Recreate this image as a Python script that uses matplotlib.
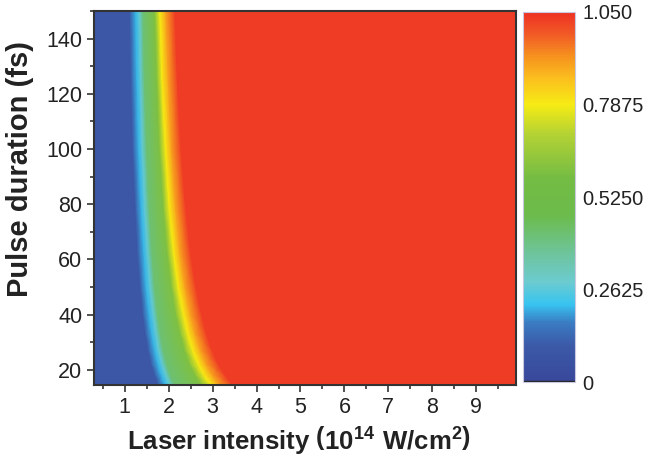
import numpy as np
import matplotlib
matplotlib.use("Agg")
import matplotlib.pyplot as plt
from matplotlib.colors import LinearSegmentedColormap, Normalize
from matplotlib.ticker import MultipleLocator
import matplotlib.cm as cm

plt.rcParams['font.family'] = ['Liberation Sans', 'DejaVu Sans']
plt.rcParams['mathtext.fontset'] = 'custom'
plt.rcParams['mathtext.rm'] = 'Liberation Sans:bold'
plt.rcParams['mathtext.bf'] = 'Liberation Sans:bold'

# pulse duration rows (fs)
tau = [15, 18, 22, 27, 33, 40, 50, 62, 78, 100, 125, 150]

# value reached at each column of the mesh
levels = [0.09, 0.09, 0.21, 0.27, 0.42, 0.60, 0.79, 0.90, 1.03, 1.03]

# intensity (1e14 W/cm2) where each level is reached, one row per pulse duration
crossings = [
    [0.3, 1.75, 1.91, 2.00, 2.12, 2.71, 2.94, 3.12, 3.43, 9.9],
    [0.3, 1.68, 1.84, 1.93, 2.04, 2.60, 2.81, 2.99, 3.29, 9.9],
    [0.3, 1.60, 1.76, 1.85, 1.96, 2.47, 2.68, 2.85, 3.13, 9.9],
    [0.3, 1.53, 1.69, 1.77, 1.88, 2.36, 2.55, 2.72, 2.99, 9.9],
    [0.3, 1.47, 1.62, 1.71, 1.81, 2.26, 2.44, 2.60, 2.86, 9.9],
    [0.3, 1.41, 1.56, 1.65, 1.75, 2.16, 2.34, 2.49, 2.75, 9.9],
    [0.3, 1.35, 1.49, 1.58, 1.68, 2.06, 2.22, 2.37, 2.62, 9.9],
    [0.3, 1.29, 1.44, 1.52, 1.62, 1.97, 2.12, 2.26, 2.50, 9.9],
    [0.3, 1.24, 1.38, 1.46, 1.56, 1.88, 2.02, 2.16, 2.39, 9.9],
    [0.3, 1.18, 1.32, 1.40, 1.50, 1.79, 1.93, 2.06, 2.28, 9.9],
    [0.3, 1.14, 1.28, 1.36, 1.45, 1.73, 1.85, 1.99, 2.20, 9.9],
    [0.3, 1.11, 1.25, 1.33, 1.42, 1.68, 1.80, 1.93, 2.14, 9.9],
]

cbar_ticks = [0, 0.2625, 0.525, 0.7875, 1.05]
cbar_labels = ['0', '0.2625', '0.5250', '0.7875', '1.050']

stops = [
    (0.00, '#39479a'), (0.10, '#3b5aa8'), (0.16, '#3a7cc2'),
    (0.21, '#38c4f0'), (0.27, '#6ccbd0'), (0.35, '#6ec49a'),
    (0.45, '#6cbb4c'), (0.55, '#74bc44'), (0.67, '#b4d234'),
    (0.75, '#f6eb14'), (0.82, '#fbbf1e'), (0.88, '#f6921e'),
    (0.94, '#f15a26'), (1.00, '#ee3124'),
]
cmap = LinearSegmentedColormap.from_list('origin_rainbow', stops, N=512)
norm = Normalize(vmin=0, vmax=1.05)

X = np.array(crossings)
Y = np.repeat(np.array(tau, dtype=float)[:, None], X.shape[1], axis=1)
C = np.repeat(np.array(levels)[None, :], X.shape[0], axis=0)

fig = plt.figure(figsize=(6.48, 4.55), dpi=100)
ax = fig.add_axes([0.145, 0.154, 0.651, 0.822])
ax.pcolormesh(X, Y, C, cmap=cmap, norm=norm, shading='gouraud')

ax.set_xlim(0.3, 9.9)
ax.set_ylim(14.5, 150)
ax.xaxis.set_major_locator(MultipleLocator(1))
ax.xaxis.set_minor_locator(MultipleLocator(0.5))
ax.yaxis.set_major_locator(MultipleLocator(20))
ax.yaxis.set_minor_locator(MultipleLocator(10))
ax.tick_params(which='major', direction='out', length=5, width=1.2,
               color='#333333', labelsize=15.5, labelcolor='#222222')
ax.tick_params(which='minor', direction='out', length=3, width=1.2,
               color='#333333')
for s in ax.spines.values():
    s.set_linewidth(1.5)
    s.set_color('#333333')

ax.set_xlabel('Laser intensity ' + r'$\left(\mathbf{10^{14}\ W/cm^{2}}\right)$',
              fontsize=18.5, fontweight='bold', color='#222222')
ax.xaxis.set_label_coords(0.486, -0.105)
ax.set_ylabel('Pulse duration (fs)', fontsize=21, fontweight='bold',
              color='#222222')
ax.yaxis.set_label_coords(-0.143, 0.578)

cax = fig.add_axes([0.807, 0.160, 0.081, 0.814])
sm = cm.ScalarMappable(norm=norm, cmap=cmap)
cb = fig.colorbar(sm, cax=cax, ticks=cbar_ticks)
cb.ax.set_yticklabels(cbar_labels)
cb.ax.tick_params(length=0, labelsize=14.5, labelcolor='#222222', pad=5)
cb.outline.set_edgecolor('#c8c8e0')
cb.outline.set_linewidth(0.8)
cax.axhline(0, color='#222222', lw=2.5)

fig.savefig('out.png', dpi=100)
